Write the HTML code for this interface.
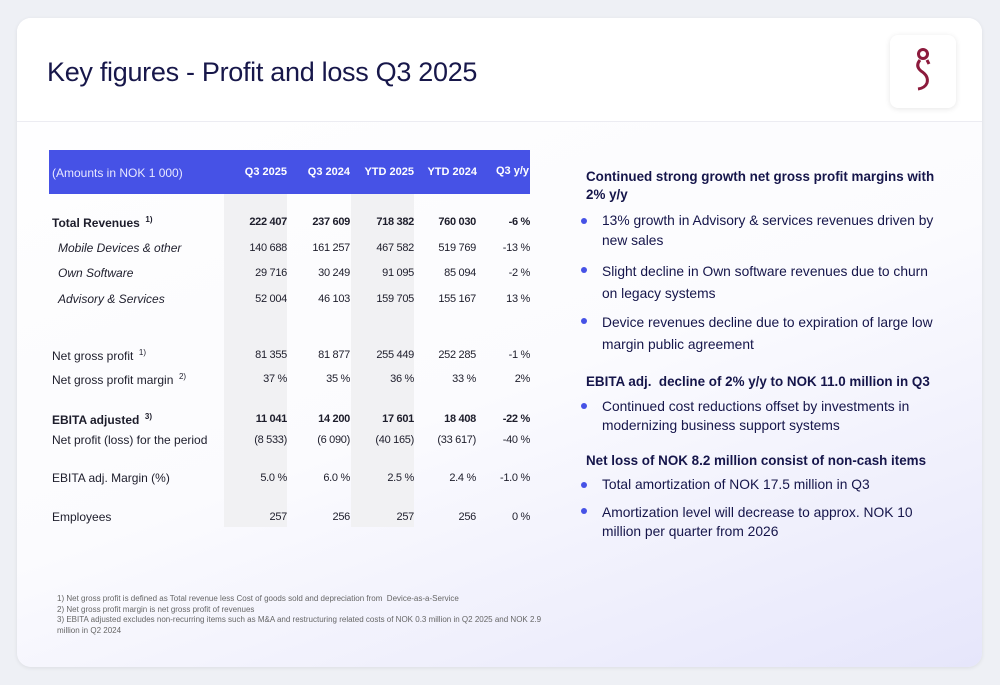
<!DOCTYPE html>
<html><head><meta charset="utf-8"><style>
*{margin:0;padding:0;box-sizing:border-box}
body{width:1000px;height:685px;background:#eef0f5;font-family:"Liberation Sans",sans-serif;position:relative;overflow:hidden}
.card{position:absolute;left:17px;top:18px;width:965px;height:649px;border-radius:14px;overflow:hidden;background:linear-gradient(160deg,#ffffff 0%,#fbfbfe 55%,#e6e6fb 100%);box-shadow:0 1px 4px rgba(0,0,0,.08)}
.hdr{position:absolute;left:0;top:0;width:965px;height:104px;background:#fff;border-bottom:1px solid #ececf2}
.a{position:absolute;white-space:nowrap}
.t{font-size:12px;color:#1d1d2b}
.n{font-size:11px;color:#1d1d2b;text-align:right;letter-spacing:-.3px}
.b{font-weight:bold}
.r{font-size:13.8px;color:#15154a}
.h{font-size:13.4px}
.dot{position:absolute;width:6px;height:6px;border-radius:50%;background:#4652e6}
sup{font-size:8px}
</style></head><body>
<div class="card">
<div class="hdr"></div>
<div class="a" style="left:30px;top:39px;font-size:27px;color:#17174a;letter-spacing:-.3px">Key figures - Profit and loss Q3 2025</div>
<div class="a" style="left:873px;top:17px;width:66px;height:73px;background:#fff;border-radius:8px;box-shadow:0 1px 6px rgba(0,0,0,.1)">
<svg width="66" height="73" viewBox="0 0 66 73"><circle cx="33" cy="19" r="4.5" fill="none" stroke="#8c1a3c" stroke-width="3"/><path d="M30 25 Q25 31 31 36 Q39 41 37 48 Q35 53 28 54" fill="none" stroke="#8c1a3c" stroke-width="3"/><path d="M37 25 L39 29" stroke="#8c1a3c" stroke-width="3"/></svg></div>
</div>
<div class="a" style="left:49px;top:150px;width:481px;height:44px;background:#4652e6"></div>
<div class="a" style="left:224px;top:194px;width:63px;height:333px;background:#f1f1f3"></div>
<div class="a" style="left:351px;top:194px;width:63px;height:333px;background:#f1f1f3"></div>
<div class="a" style="left:52px;top:166px;font-size:12px;color:#e8e8ff">(Amounts in NOK 1 000)</div>
<div class="a b" style="left:224px;width:63px;top:166px;font-size:11px;color:#fff;text-align:right">Q3 2025</div>
<div class="a b" style="left:287px;width:63px;top:166px;font-size:11px;color:#fff;text-align:right">Q3 2024</div>
<div class="a b" style="left:351px;width:63px;top:166px;font-size:11px;color:#fff;text-align:right">YTD 2025</div>
<div class="a b" style="left:414px;width:63px;top:166px;font-size:11px;color:#fff;text-align:right">YTD 2024</div>
<div class="a b" style="left:477px;width:52px;top:165px;font-size:11px;color:#fff;text-align:right">Q3 y/y</div>
<div id="rows"></div>
<div class="a" style="left:57px;top:594px;font-size:8px;color:#666;line-height:10.6px">1) Net gross profit is defined as Total revenue less Cost of goods sold and depreciation from &nbsp;Device-as-a-Service<br>2) Net gross profit margin is net gross profit of revenues<br>3) EBITA adjusted excludes non-recurring items such as M&amp;A and restructuring related costs of NOK 0.3 million in Q2 2025 and NOK 2.9<br>million in Q2 2024</div>

<div class="a r b h" style="left:586px;top:168px;line-height:18px">Continued strong growth net gross profit margins with<br>2% y/y</div>
<div class="dot" style="left:581px;top:218px"></div>
<div class="a r" style="left:602px;top:211px;line-height:20px">13% growth in Advisory &amp; services revenues driven by<br>new sales</div>
<div class="dot" style="left:581px;top:267px"></div>
<div class="a r" style="left:602px;top:261px;line-height:22px">Slight decline in Own software revenues due to churn<br>on legacy systems</div>
<div class="dot" style="left:581px;top:318px"></div>
<div class="a r" style="left:602px;top:312px;line-height:22px">Device revenues decline due to expiration of large low<br>margin public agreement</div>
<div class="a r b h" style="left:586px;top:374px">EBITA adj. &nbsp;decline of 2% y/y to NOK 11.0 million in Q3</div>
<div class="dot" style="left:581px;top:403px"></div>
<div class="a r" style="left:602px;top:397px;line-height:19px">Continued cost reductions offset by investments in<br>modernizing business support systems</div>
<div class="a r b h" style="left:586px;top:453px">Net loss of NOK 8.2 million consist of non-cash items</div>
<div class="dot" style="left:581px;top:482px"></div>
<div class="a r" style="left:602px;top:477px">Total amortization of NOK 17.5 million in Q3</div>
<div class="dot" style="left:581px;top:508px"></div>
<div class="a r" style="left:602px;top:503px;line-height:19px">Amortization level will decrease to approx. NOK 10<br>million per quarter from 2026</div>
<script>
const labels=["Total Revenues","Mobile Devices & other","Own Software","Advisory & Services","Net gross profit","Net gross profit margin","EBITA adjusted","Net profit (loss) for the period","EBITA adj. Margin (%)","Employees"];
const sups=["1)","","","","1)","2)","3)","","",""];
const q3_2025=["222 407","140 688","29 716","52 004","81 355","37 %","11 041","(8 533)","5.0 %","257"];
const q3_2024=["237 609","161 257","30 249","46 103","81 877","35 %","14 200","(6 090)","6.0 %","256"];
const ytd_2025=["718 382","467 582","91 095","159 705","255 449","36 %","17 601","(40 165)","2.5 %","257"];
const ytd_2024=["760 030","519 769","85 094","155 167","252 285","33 %","18 408","(33 617)","2.4 %","256"];
const yy=["-6 %","-13 %","-2 %","13 %","-1 %","2%","-22 %","-40 %","-1.0 %","0 %"];
const rowY=[215,241,266,292,348,372,412,433,471,510];
const bold=[1,0,0,0,0,0,1,0,0,0];
const ital=[0,1,1,1,0,0,0,0,0,0];
const cols=[[q3_2025,224,63],[q3_2024,287,63],[ytd_2025,351,63],[ytd_2024,414,62],[yy,477,53]];
const root=document.getElementById('rows');
labels.forEach((l,i)=>{
 const d=document.createElement('div');
 
 
 d.className='a t'+(bold[i]?' b':'');
 d.style.left=(ital[i]?58:52)+'px';d.style.top=rowY[i]+'px';
 if(ital[i])d.style.fontStyle='italic';
 d.innerHTML=l.replace('&','&amp;')+(sups[i]?' <sup>&nbsp;'+sups[i]+'</sup>':'');
 root.appendChild(d);
 cols.forEach(c=>{
  const v=document.createElement('div');
  
  
  v.className='a n'+(bold[i]?' b':'');
  v.style.left=c[1]+'px';v.style.width=c[2]+'px';v.style.top=(rowY[i]+1)+'px';
  v.textContent=c[0][i];
  root.appendChild(v);
 });
});
</script>
</body></html>
